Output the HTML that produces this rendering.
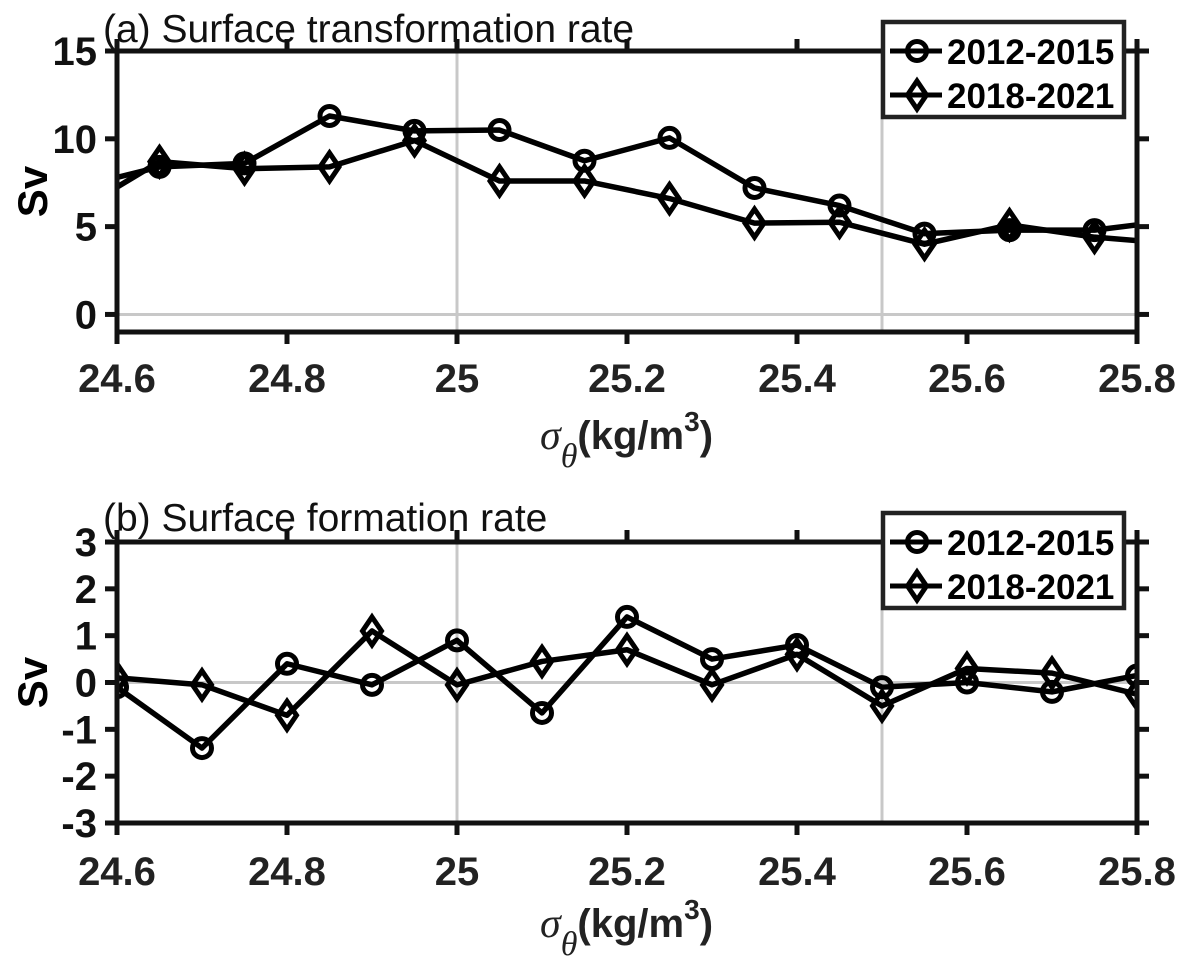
<!DOCTYPE html>
<html><head><meta charset="utf-8">
<style>
body{margin:0;background:#fff;}
svg{display:block;font-family:"Liberation Sans",sans-serif;}
</style></head>
<body>
<svg id="chart" width="1188" height="972" viewBox="0 0 1188 972"></svg>
<script>
// Panel (a): surface transformation rate
const xA = [24.55,24.65,24.75,24.85,24.95,25.05,25.15,25.25,25.35,25.45,25.55,25.65,25.75,25.85];
const aCircle = [7.2,8.4,8.6,11.3,10.45,10.5,8.75,10.05,7.2,6.2,4.6,4.8,4.8,5.4];
const aDiamond = [5.8,8.7,8.3,8.4,9.9,7.6,7.6,6.6,5.2,5.25,4.0,5.1,4.4,4.0];
const aYTicks = [0,5,10,15];
// Panel (b): surface formation rate
const xB = [24.6,24.7,24.8,24.9,25.0,25.1,25.2,25.3,25.4,25.5,25.6,25.7,25.8];
const bCircle = [-0.1,-1.4,0.4,-0.05,0.9,-0.65,1.4,0.5,0.8,-0.1,0.0,-0.2,0.15];
const bDiamond = [0.1,-0.05,-0.7,1.1,-0.05,0.45,0.7,-0.05,0.6,-0.5,0.3,0.2,-0.25];
const bYTicks = [-3,-2,-1,0,1,2,3];
const xTicks = [24.6,24.8,25,25.2,25.4,25.6,25.8];
const xTickLabels = ["24.6","24.8","25","25.2","25.4","25.6","25.8"];
const gridX = [25,25.5];
const seriesNames = ["2012-2015","2018-2021"];

const NS="http://www.w3.org/2000/svg";
const svg=document.getElementById('chart');
function el(tag,attrs,parent){const e=document.createElementNS(NS,tag);for(const k in attrs)e.setAttribute(k,attrs[k]);(parent||svg).appendChild(e);return e;}
const X0=117,X1=1137,XMIN=24.6,XMAX=25.8;
const sx=v=>X0+(v-XMIN)/(XMAX-XMIN)*(X1-X0);

function panel(cfg){
  const g=el('g',{});
  
  
  const sy=v=>cfg.yTop+(cfg.yMax-v)/(cfg.yMax-cfg.yMin)*(cfg.yBot-cfg.yTop);
  const clipId='clip-'+cfg.name;
  const cp=el('clipPath',{id:clipId},g);
  el('rect',{x:X0,y:cfg.yTop,width:X1-X0,height:cfg.yBot-cfg.yTop},cp);
  gridX.forEach(v=>{const l=el('line',{x1:sx(v),x2:sx(v),y1:cfg.yTop,y2:cfg.yBot,stroke:'#c8c8c8','stroke-width':3},g);
    
    });
  const z=el('line',{x1:X0,x2:X1,y1:sy(0),y2:sy(0),stroke:'#c8c8c8','stroke-width':3},g);
  
  
  const dg=el('g',{'clip-path':'url(#'+clipId+')'},g);
  function series(xs,ys,type,nm){
    const pts=xs.map((x,i)=>sx(x)+','+sy(ys[i])).join(' ');
    const pl=el('polyline',{points:pts,fill:'none',stroke:'#000','stroke-width':5.5,'stroke-linejoin':'round'},dg);
    
    
    xs.forEach((x,i)=>{
      const cx=sx(x),cy=sy(ys[i]);let m;
      if(type==='c') m=el('circle',{cx:cx,cy:cy,r:9.5,fill:'none',stroke:'#000','stroke-width':5},dg);
      else m=el('polygon',{points:`${cx},${cy-14} ${cx+9.5},${cy} ${cx},${cy+14} ${cx-9.5},${cy}`,fill:'none',stroke:'#000','stroke-width':5},dg);
      
      
    });
  }
  series(cfg.xs,cfg.c,'c','series-2012-2015');
  series(cfg.xs,cfg.d,'d','series-2018-2021');
  const box=el('rect',{x:X0,y:cfg.yTop,width:X1-X0,height:cfg.yBot-cfg.yTop,fill:'none',stroke:'#111','stroke-width':5},g);
  
  
  xTicks.forEach((v,i)=>{
    el('line',{x1:sx(v),x2:sx(v),y1:cfg.yBot,y2:cfg.yBot+12,stroke:'#111','stroke-width':5},g);
    el('line',{x1:sx(v),x2:sx(v),y1:cfg.yTop,y2:cfg.yTop-12,stroke:'#111','stroke-width':5},g);
    const t=el('text',{x:sx(v),y:cfg.xLabY,'text-anchor':'middle','font-size':40,'font-weight':'bold',fill:'#222'},g);
    t.textContent=xTickLabels[i];
    
    
  });
  cfg.yTicks.forEach(v=>{
    el('line',{x1:X0,x2:X0-12,y1:sy(v),y2:sy(v),stroke:'#111','stroke-width':5},g);
    el('line',{x1:X1,x2:X1+12,y1:sy(v),y2:sy(v),stroke:'#111','stroke-width':5},g);
    const t=el('text',{x:97,y:sy(v)+14,'text-anchor':'end','font-size':40,'font-weight':'bold',fill:'#111'},g);
    t.textContent=String(v);
    
    
  });
  const yt=el('text',{x:0,y:0,'text-anchor':'middle','font-size':42,'font-weight':'bold',transform:`translate(47,${(cfg.yTop+cfg.yBot)/2}) rotate(-90)`},g);
  yt.textContent='Sv';
  
  
  const tt=el('text',{x:103,y:cfg.titleY,'font-size':39,fill:'#111'},g);
  tt.textContent=cfg.title;
  
  
  const xt=el('text',{x:540,y:cfg.xTitleY,'font-size':40,'font-weight':'bold',fill:'#222'},g);
  xt.innerHTML='<tspan font-family="Liberation Serif" font-style="italic" font-weight="normal" font-size="42">σ</tspan><tspan font-family="Liberation Serif" font-style="italic" font-weight="normal" font-size="34" dy="18">θ</tspan><tspan dy="-18">(kg/m</tspan><tspan font-size="28" dy="-18">3</tspan><tspan dy="18">)</tspan>';
  
  
  const lg=el('g',{},g);
  
  
  const ly=cfg.legY;
  el('rect',{x:883,y:ly,width:241,height:95,fill:'#fff',stroke:'#222','stroke-width':4.5},lg);
  seriesNames.forEach((nm,i)=>{
    const cy=ly+29+i*44;
    el('line',{x1:890,x2:942,y1:cy,y2:cy,stroke:'#000','stroke-width':5},lg);
    if(i===0) el('circle',{cx:917,cy:cy,r:9.5,fill:'none',stroke:'#000','stroke-width':5},lg);
    else el('polygon',{points:`917,${cy-14} 926.5,${cy} 917,${cy+14} 907.5,${cy}`,fill:'none',stroke:'#000','stroke-width':5},lg);
    const t=el('text',{x:947,y:cy+13,'font-size':35,'font-weight':'bold'},lg);
    t.textContent=nm;
    
    
  });
}
panel({name:'panel-a',yTop:51,yBot:332,yMin:-1,yMax:15,xs:xA,c:aCircle,d:aDiamond,yTicks:aYTicks,xLabY:392,xTitleY:449,titleY:42,legY:22,title:'(a) Surface transformation rate'});
panel({name:'panel-b',yTop:542,yBot:823,yMin:-3,yMax:3,xs:xB,c:bCircle,d:bDiamond,yTicks:bYTicks,xLabY:885,xTitleY:937,titleY:531,legY:513,title:'(b) Surface formation rate'});
</script>
</body></html>
